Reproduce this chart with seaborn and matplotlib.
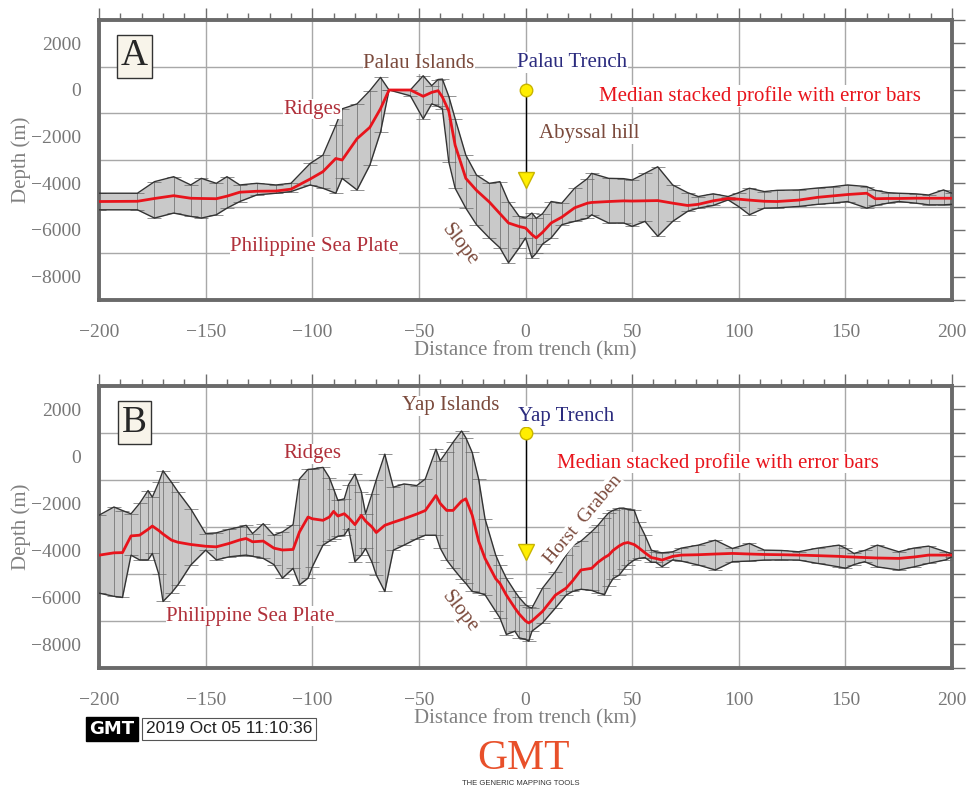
import seaborn as sns
import matplotlib.pyplot as plt
import pandas as pd
import numpy as np

# Panel A: Palau Trench stacked profile (km from trench, depth in m)
a_km = [-200, -182, -174, -165, -157, -152, -145, -140, -134, -126, -117, -110,
        -101, -95, -89, -86, -79, -73, -68, -64, -54, -48, -44, -41, -39, -36,
        -33, -28, -23, -17, -12, -8, -3, 0, 3, 5, 8, 12, 17, 23, 29, 31, 39, 46,
        50, 56, 62, 69, 76, 81, 88, 95, 100, 105, 112, 118, 128, 137, 144, 151,
        160, 164, 170, 175, 183, 189, 196, 200]
a_med = [-4780, -4770, -4650, -4530, -4640, -4650, -4660, -4550, -4380, -4340, -4330, -4250,
         -3816, -3500, -2936, -3000, -2085, -1600, -800, 0, 0, -270, -100, -30, -300, -900,
         -2370, -3787, -4300, -4800, -5300, -5700, -5850, -5915, -6200, -6340, -6100, -5700, -5450, -5050, -4851, -4820, -4780, -4752,
         -4760, -4750, -4740, -4850, -4950, -4900, -4750, -4650, -4680, -4720, -4770, -4780, -4720, -4600, -4540, -4480,
         -4425, -4660, -4650, -4650, -4638, -4640, -4640, -4640]
a_hi = [-4425, -4425, -3929, -3716, -4070, -3787, -4000, -3716, -4070, -4000, -4070, -4000,
        -3149, -2794, -1518, -808, -595, -28, 540, 0, 0, 610, 185, 450, 468, -270,
        -1234, -2794, -3645, -4000, -3929, -4780, -5418, -5489, -5275, -5500, -5300, -4780, -4851, -4212, -3800, -3574, -3787, -3800,
        -3858, -3574, -3291, -4070, -4400, -4567, -4450, -4567, -4400, -4212, -4354, -4300, -4283, -4200, -4150, -4070,
        -4140, -4300, -4400, -4425, -4450, -4500, -4283, -4425]
a_lo = [-5135, -5135, -5489, -5275, -5418, -5489, -5348, -5063, -4780, -4496, -4425, -4354,
        -4070, -4212, -4425, -3787, -4283, -3220, -1802, 0, -250, -1234, -595, -700, -808, -3077,
        -4212, -5063, -5773, -6340, -6765, -7404, -6765, -6340, -7191, -7000, -6600, -6340, -5773, -5631, -5500, -5348, -5702, -5700,
        -5844, -5631, -6269, -5631, -5200, -5063, -4950, -4710, -5000, -5348, -5063, -5050, -4993, -4900, -4850, -4780,
        -5063, -4950, -4850, -4780, -4850, -4922, -4922, -4900]

# Panel B: Yap Trench stacked profile
b_km = [-200, -193, -189, -185, -181, -177, -175, -172, -170, -166, -163, -157, -150, -145,
        -139, -134, -131, -128, -123, -118, -114, -109, -106, -102, -100, -95, -92, -90,
        -88, -85, -83, -80, -77, -75, -72, -70, -66, -62, -57, -51, -47, -42, -40, -37,
        -34, -30, -28, -25, -22, -19, -14, -12, -9, -5, -3, 0, 1.5, 3, 8, 14, 19, 22,
        26, 31, 34, 37, 39, 41, 44, 46, 48, 51, 53, 56, 59, 61, 64, 69, 73, 81, 89, 97,
        105, 112, 120, 128, 137, 147, 150, 154, 159, 165, 175, 182, 189, 197, 200]
b_med = [-4200, -4100, -4090, -3380, -3350, -3100, -2960, -3150, -3300, -3560, -3650, -3745, -3820, -3845,
         -3700, -3550, -3490, -3630, -3600, -3900, -3980, -3956, -3210, -2577, -2650, -2717, -2577, -2337,
         -2534, -2436, -2600, -2900, -2506, -2750, -3000, -3238, -2929, -2800, -2650, -2450, -2300, -1661, -2000, -2295,
         -2295, -1900, -1802, -2500, -3600, -4337, -5200, -5400, -5900, -6449, -6700, -7000, -7082, -7000, -6589, -5900, -5604, -5300,
         -4829, -4759, -4500, -4300, -4196, -4000, -3800, -3700, -3661, -3750, -3880, -4100, -4300, -4337, -4407, -4250, -4196, -4180, -4150, -4125,
         -4150, -4170, -4180, -4196, -4220, -4250, -4266, -4280, -4300, -4320, -4337, -4280, -4196, -4196, -4196]
b_hi = [-2500, -2150, -2300, -2440, -2000, -1450, -1730, -1100, -605, -1100, -1500, -2225, -3280, -3250,
        -3100, -3000, -2930, -3280, -2860, -3350, -3210, -2900, -957, -550, -535, -465, -900, -1380,
        -1873, -1802, -1200, -746, -1500, -2436, -1591, -1000, 99, -1309, -1169, -1239, -957, 310, -183, 200,
        600, 1084, 800, 169, -957, -2647, -4196, -4618, -5181, -5745, -6000, -6308, -6400, -6449, -5600, -4900, -4200, -3800,
        -3600, -3200, -2929, -2600, -2400, -2295, -2200, -2196, -2250, -2295, -2800, -3351, -3985, -4050, -4100, -4055, -3900, -3773, -3562, -3914,
        -3703, -3985, -4000, -4055, -3900, -3773, -3900, -4125, -4000, -3773, -4055, -3900, -3815, -4055, -4150]
b_lo = [-5815, -5950, -6000, -4200, -4400, -4400, -4125, -5000, -6170, -5800, -5460, -4620, -3985, -4400,
        -4270, -4220, -4196, -4250, -4337, -4600, -5180, -4760, -5460, -5180, -4700, -3773, -3600, -3500,
        -3400, -3351, -3069, -4478, -4200, -3914, -4500, -5040, -5745, -3985, -3773, -3500, -3351, -3351, -3900, -4400,
        -4759, -5200, -5400, -5745, -5800, -5885, -6589, -6871, -7575, -7434, -7716, -7786, -7857, -7434, -7082, -6449, -5900, -5745,
        -5650, -5700, -5800, -5885, -5500, -5200, -5040, -4800, -4600, -4400, -4337, -4300, -4500, -4500, -4689, -4400, -4450, -4618, -4829, -4478,
        -4450, -4407, -4400, -4407, -4550, -4700, -4759, -4600, -4478, -4700, -4829, -4700, -4548, -4400, -4266]

# text colours
BROWN = "#7b4a3c"
DRED = "#b0303a"
NAVY = "#2b2b7e"
RED = "#e8141c"
GRAY = "#6e6e6e"

sns.set_style("white")
plt.rcParams['font.family'] = ['Liberation Serif', 'DejaVu Serif']


def label(ax, x, y, s, color, size=15, rot=0):
    ax.text(x, y, s, color=color, fontsize=size, rotation=rot, ha='center', va='center',
            zorder=6, bbox=dict(fc='white', ec='none', pad=0.5))


def panel(ax, km, med, hi, lo, letter):
    df = pd.DataFrame({"km": km, "med": med, "hi": hi, "lo": lo})
    ax.fill_between(df.km, df.lo, df.hi, color='#c9c9c9', lw=0, zorder=2)
    err = [(df.med - df.lo).clip(lower=0), (df.hi - df.med).clip(lower=0)]
    ax.errorbar(df.km, df.med, yerr=err, fmt='none',
                ecolor='#666666', elinewidth=0.5, capsize=5, capthick=0.5, zorder=3)
    sns.lineplot(data=df, x='km', y='hi', color='#333333', lw=1, ax=ax, zorder=3)
    sns.lineplot(data=df, x='km', y='lo', color='#333333', lw=1, ax=ax, zorder=3)
    sns.lineplot(data=df, x='km', y='med', color=RED, lw=2, ax=ax, zorder=4)

    ax.set_xlim(-200, 200)
    ax.set_ylim(-9000, 3000)
    ax.set_xticks(np.arange(-200, 201, 50))
    ax.set_xticks(np.arange(-200, 201, 10), minor=True)
    ax.set_yticks(np.arange(-8000, 2001, 2000))
    ax.set_yticks(np.arange(-9000, 3001, 1000), minor=True)
    ax.grid(which='major', axis='x', color='#a8a8a8', lw=1, zorder=1)
    ax.grid(which='minor', axis='y', color='#a8a8a8', lw=1, zorder=1)
    ax.set_axisbelow(True)
    ax.tick_params(which='both', direction='out', top=True, right=True, color=GRAY,
                   labelcolor='#777777', labelsize=14, width=1)
    ax.tick_params(which='major', length=9, pad=4)
    ax.tick_params(axis='x', which='major', pad=8)
    ax.tick_params(which='minor', length=5)
    ax.tick_params(axis='y', which='minor', length=9)
    for sp in ax.spines.values():
        sp.set_linewidth(2.8)
        sp.set_color('#6a6a6a')
    ax.set_xlabel('Distance from trench (km)', color='#808080', fontsize=15, labelpad=0)
    ax.set_ylabel('Depth (m)', color='#808080', fontsize=15, labelpad=0)
    ax.text(-183.5, 1450, letter, fontsize=27, ha='center', va='center', zorder=6,
            bbox=dict(fc='#f8f4ea', ec='#333333', lw=1, pad=3))


fig = plt.figure(figsize=(9.69, 7.94), dpi=100)
axA = fig.add_axes([0.1022, 0.6222, 0.8803, 0.3526])
axB = fig.add_axes([0.1022, 0.1587, 0.8803, 0.3552])

panel(axA, a_km, a_med, a_hi, a_lo, 'A')
panel(axB, b_km, b_med, b_hi, b_lo, 'B')

# trench markers
axA.plot([0, 0], [0, -3700], color='black', lw=1, zorder=5)
axA.plot(0, 0, 'o', ms=9, mfc='#ffee00', mec='#c8b400', zorder=6)
axA.plot(0, -3870, 'v', ms=12, mfc='#ffee00', mec='#c8b400', zorder=6)
axB.plot([0, 0], [1000, -3800], color='black', lw=1, zorder=5)
axB.plot(0, 1000, 'o', ms=9, mfc='#ffee00', mec='#c8b400', zorder=6)
axB.plot(0, -4050, 'v', ms=12, mfc='#ffee00', mec='#c8b400', zorder=6)

# annotations A
label(axA, -50, 1120, 'Palau Islands', BROWN)
label(axA, 22, 1180, 'Palau Trench', NAVY)
label(axA, 110, -260, 'Median stacked profile with error bars', RED)
label(axA, 30, -1870, 'Abyssal hill', BROWN)
label(axA, -100, -820, 'Ridges', DRED)
label(axA, -99, -6720, 'Philippine Sea Plate', DRED)
label(axA, -31, -6650, 'Slope', BROWN, rot=-52)

# annotations B
label(axB, -35, 2150, 'Yap Islands', BROWN)
label(axB, 19, 1700, 'Yap Trench', NAVY)
label(axB, 90, -270, 'Median stacked profile with error bars', RED)
label(axB, -100, 120, 'Ridges', DRED)
label(axB, -129, -6800, 'Philippine Sea Plate', DRED)
label(axB, -31, -6620, 'Slope', BROWN, rot=-52)
label(axB, 27, -2700, 'Horst  Graben', BROWN, size=14, rot=50)

# GMT time stamp and logo
fig.text(0.0918, 0.0819, 'GMT', fontsize=13, family='DejaVu Sans', color='white',
         fontweight='bold', va='center', ha='left',
         bbox=dict(fc='black', ec='black', pad=2.5))
fig.text(0.1505, 0.0819, '2019 Oct 05 11:10:36', fontsize=12.5, family='Liberation Sans',
         color='#222222', va='center', ha='left',
         bbox=dict(fc='white', ec='#555555', lw=0.8, pad=2.5))
fig.text(0.540, 0.0440, 'GMT', fontsize=30, color='#e8502a', ha='center', va='center',
         family='Liberation Serif')
fig.text(0.537, 0.0130, 'THE GENERIC MAPPING TOOLS', fontsize=5.5, color='#333333',
         ha='center', va='center', family='Liberation Sans')

fig.savefig('out.png', dpi=100)
